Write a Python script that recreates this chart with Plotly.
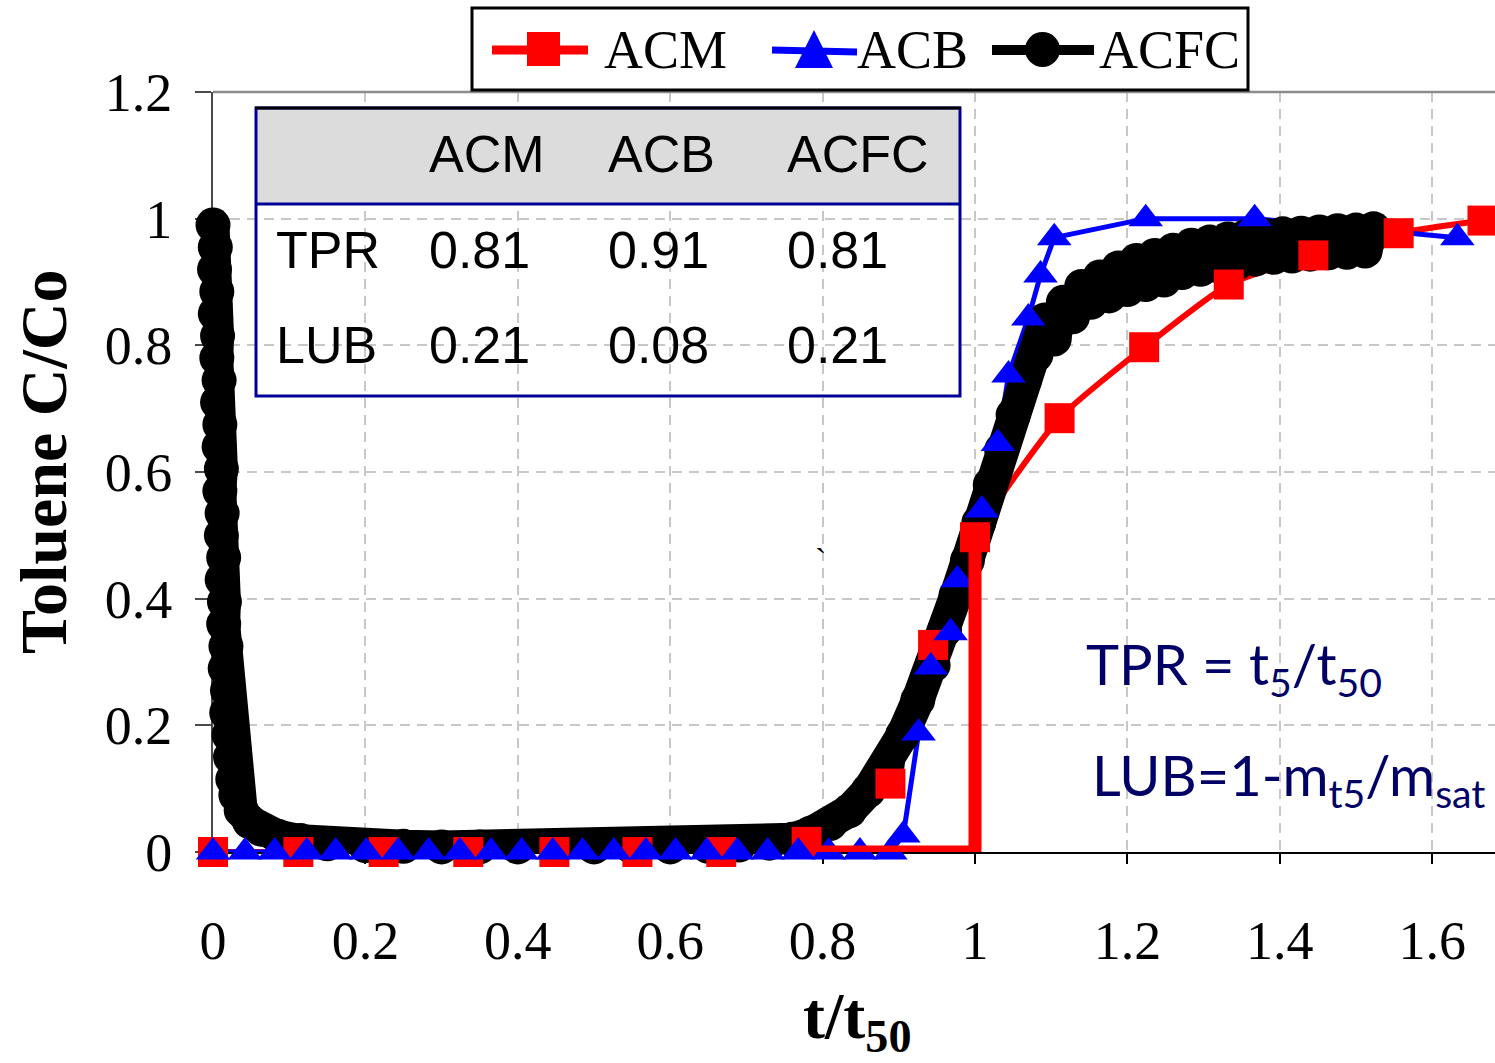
import plotly.graph_objects as go

# ---------------- data ----------------
acm_x = [0.0, 0.112, 0.224, 0.335, 0.448, 0.557, 0.667, 0.779, 0.889, 0.945, 1.0,
         1.111, 1.222, 1.333, 1.444, 1.556, 1.666]
acm_y = [0.0, 0.0, 0.0, 0.0, 0.0, 0.0, 0.0, 0.016, 0.108, 0.327, 0.497,
         0.685, 0.797, 0.896, 0.942, 0.977, 0.997]

acb_x = [0.0, 0.042, 0.081, 0.123, 0.161, 0.201, 0.243, 0.283, 0.324, 0.365, 0.405,
         0.446, 0.485, 0.526, 0.568, 0.607, 0.648, 0.688, 0.728, 0.768, 0.808, 0.849,
         0.889, 0.906, 0.926, 0.942, 0.968, 0.977, 1.009, 1.03, 1.044, 1.07, 1.086,
         1.104, 1.224, 1.367, 1.633]
acb_y = [0.0, 0.0, 0.0, 0.0, 0.0, 0.0, 0.0, 0.0, 0.0, 0.0, 0.0,
         0.0, 0.0, 0.0, 0.0, 0.0, 0.0, 0.0, 0.0, 0.0, 0.0, 0.0,
         0.0, 0.027, 0.188, 0.292, 0.346, 0.43, 0.54, 0.645, 0.753, 0.843, 0.911,
         0.97, 1.0, 1.0, 0.97]

acfc_x = [0.000, 0.003, 0.002, 0.005, 0.003, 0.006, 0.005, 0.008, 0.006, 0.009, 0.008,
          0.011, 0.009, 0.012, 0.011, 0.014, 0.012, 0.015, 0.014, 0.017, 0.016, 0.019,
          0.018, 0.021, 0.023, 0.026, 0.030, 0.037, 0.048, 0.063, 0.085, 0.115, 0.15,
          0.20, 0.25, 0.30, 0.35, 0.40, 0.45, 0.50, 0.55, 0.60, 0.65, 0.69, 0.73, 0.76,
          0.785, 0.81, 0.835, 0.86, 0.885, 0.905, 0.925, 0.945, 0.96, 0.975, 0.99,
          1.005, 1.02, 1.035, 1.05, 1.065,
          1.080, 1.092, 1.104, 1.116, 1.128, 1.140, 1.152, 1.164, 1.176, 1.188,
          1.200, 1.212, 1.224, 1.236, 1.248, 1.260, 1.272, 1.284, 1.296, 1.308,
          1.320, 1.332, 1.344, 1.356, 1.368, 1.380, 1.392, 1.404, 1.416, 1.428,
          1.440, 1.452, 1.464, 1.476, 1.488, 1.500, 1.512, 1.523]
acfc_y = [0.99, 0.955, 0.92, 0.885, 0.85, 0.815, 0.78, 0.745, 0.71, 0.675, 0.64,
          0.605, 0.57, 0.535, 0.50, 0.465, 0.43, 0.395, 0.36, 0.325, 0.29, 0.255,
          0.22, 0.185, 0.15, 0.115, 0.09, 0.066, 0.048, 0.036, 0.025, 0.018, 0.013,
          0.01, 0.009, 0.008, 0.008, 0.008, 0.008, 0.008, 0.008, 0.008, 0.009, 0.011, 0.014, 0.02,
          0.03, 0.045, 0.065, 0.097, 0.14, 0.185, 0.24, 0.295, 0.35, 0.405, 0.46,
          0.52, 0.58, 0.635, 0.69, 0.745,
          0.785, 0.84, 0.81, 0.868, 0.845, 0.893, 0.868, 0.908, 0.878, 0.922,
          0.888, 0.934, 0.896, 0.942, 0.903, 0.95, 0.915, 0.958, 0.92, 0.963,
          0.925, 0.968, 0.93, 0.972, 0.936, 0.974, 0.939, 0.976, 0.941, 0.977,
          0.944, 0.979, 0.946, 0.981, 0.947, 0.982, 0.949, 0.984]

# red marker line for t5 / t50
step_x = [0.785, 1.0, 1.0]
step_y = [0.0, 0.0, 0.5]

x_ticks = [0, 0.2, 0.4, 0.6, 0.8, 1.0, 1.2, 1.4, 1.6]
x_labels = ["0", "0.2", "0.4", "0.6", "0.8", "1", "1.2", "1.4", "1.6"]
y_ticks = [0, 0.2, 0.4, 0.6, 0.8, 1.0, 1.2]
y_labels = ["0", "0.2", "0.4", "0.6", "0.8", "1", "1.2"]

series_names = ["ACM", "ACB", "ACFC"]
table_rows = ["TPR", "LUB"]
tpr_vals = ["0.81", "0.91", "0.81"]
lub_vals = ["0.21", "0.08", "0.21"]

RED = "#FF0000"
BLUE = "#0000FF"
BLACK = "#000000"
NAVY = "#000099"
TXT_NAVY = "#000066"
SERIF = "Liberation Serif, Times New Roman, serif"
SANS = "Liberation Sans, Arial, sans-serif"

# ---------------- layout geometry (pixels) ----------------
L, T, WP, HP = 213, 92, 1282, 760
X_PER = 762.0


def px(xp):
    return (xp - L) / WP


def py(yp):
    return (T + HP - yp) / HP


fig = go.Figure()

# lines (under the ACFC band)
fig.add_trace(go.Scatter(x=acm_x, y=acm_y, mode="lines", line=dict(color=RED, width=6, shape="spline", smoothing=0.6),
                         hoverinfo="skip", showlegend=False))
fig.add_trace(go.Scatter(x=acb_x, y=acb_y, mode="lines", line=dict(color=BLUE, width=5),
                         hoverinfo="skip", showlegend=False))
# ACFC
fig.add_trace(go.Scatter(x=acfc_x, y=acfc_y, mode="lines+markers", name="ACFC",
                         line=dict(color=BLACK, width=33),
                         marker=dict(symbol="circle", size=35, color=BLACK),
                         cliponaxis=False, showlegend=False))
# markers on top
fig.add_trace(go.Scatter(x=acm_x, y=acm_y, mode="markers", name="ACM",
                         marker=dict(symbol="square", size=30, color=RED),
                         cliponaxis=False, showlegend=False))
fig.add_trace(go.Scatter(x=acb_x, y=acb_y, mode="markers", name="ACB",
                         marker=dict(symbol="triangle-up", size=30, color=BLUE),
                         cliponaxis=False, showlegend=False))
fig.add_trace(go.Scatter(x=step_x, y=step_y, mode="lines", line=dict(color=RED, width=13),
                         cliponaxis=False, hoverinfo="skip", showlegend=False))

shapes = []
annotations = []

# solid top border of plot area
shapes.append(dict(type="line", xref="paper", yref="paper", x0=0, x1=1, y0=1, y1=1,
                   line=dict(color="#8c8c8c", width=2.5)))

# ---------- custom legend ----------
shapes.append(dict(type="rect", xref="paper", yref="paper", x0=px(472), x1=px(1248), y0=py(90), y1=py(8),
                   line=dict(color=BLACK, width=3), fillcolor="white"))
leg_y = 50
# ACM
shapes.append(dict(type="line", xref="paper", yref="paper", x0=px(492), x1=px(588), y0=py(leg_y), y1=py(leg_y),
                   line=dict(color=RED, width=9)))
shapes.append(dict(type="rect", xref="paper", yref="paper", x0=px(527), x1=px(560), y0=py(66), y1=py(32),
                   line=dict(width=0), fillcolor=RED))
# ACB
shapes.append(dict(type="line", xref="paper", yref="paper", x0=px(772), x1=px(857), y0=py(leg_y), y1=py(leg_y + 2),
                   line=dict(color=BLUE, width=7)))
shapes.append(dict(type="path", xref="paper", yref="paper",
                   path="M %f,%f L %f,%f L %f,%f Z" % (px(795), py(68), px(833), py(68), px(814), py(30)),
                   line=dict(width=0), fillcolor=BLUE))
# ACFC
shapes.append(dict(type="line", xref="paper", yref="paper", x0=px(992), x1=px(1094), y0=py(leg_y), y1=py(leg_y),
                   line=dict(color=BLACK, width=10)))
shapes.append(dict(type="circle", xref="paper", yref="paper", x0=px(1025), x1=px(1060), y0=py(67), y1=py(32),
                   line=dict(width=0), fillcolor=BLACK))
for name, xl in zip(series_names, [602, 855, 1097]):
    annotations.append(dict(xref="paper", yref="paper", x=px(xl), y=py(leg_y), text=name, showarrow=False,
                            xanchor="left", yanchor="middle", font=dict(family=SERIF, size=54, color=BLACK)))

# ---------- inset table ----------
tx0, tx1, ty0, ty1, thead = 256, 960, 108, 396, 204
shapes.append(dict(type="rect", xref="paper", yref="paper", x0=px(tx0), x1=px(tx1), y0=py(thead), y1=py(ty0),
                   line=dict(width=0), fillcolor="#DCDCDC"))
shapes.append(dict(type="rect", xref="paper", yref="paper", x0=px(tx0), x1=px(tx1), y0=py(ty1), y1=py(ty0),
                   line=dict(color=NAVY, width=3), fillcolor="rgba(0,0,0,0)"))
shapes.append(dict(type="line", xref="paper", yref="paper", x0=px(tx0), x1=px(tx1), y0=py(thead), y1=py(thead),
                   line=dict(color=NAVY, width=3)))
shapes.append(dict(type="line", xref="paper", yref="paper", x0=px(tx0 - 1), x1=px(tx1 + 1), y0=py(ty0), y1=py(ty0),
                   line=dict(color=BLACK, width=3)))

col_x = [430, 609, 788]
row_y = [250, 345]
tfont = dict(family=SANS, size=52, color=BLACK)
for name, cx in zip(series_names, col_x):
    annotations.append(dict(xref="paper", yref="paper", x=px(cx - 3), y=py(154), text=name, showarrow=False,
                            xanchor="left", yanchor="middle", font=tfont))
for rname, ry, vals in zip(table_rows, row_y, [tpr_vals, lub_vals]):
    annotations.append(dict(xref="paper", yref="paper", x=px(274), y=py(ry), text=rname, showarrow=False,
                            xanchor="left", yanchor="middle", font=tfont))
    for v, cx in zip(vals, col_x):
        annotations.append(dict(xref="paper", yref="paper", x=px(cx - 3), y=py(ry), text=v, showarrow=False,
                                xanchor="left", yanchor="middle", font=tfont))

# ---------- formulas ----------
ffont = dict(family="Lato, Open Sans, sans-serif", size=56, color=TXT_NAVY)
annotations.append(dict(xref="paper", yref="paper", x=px(1084), y=py(667), text="TPR = t<sub>5</sub>/t<sub>50</sub>",
                        showarrow=False, xanchor="left", yanchor="middle", font=ffont))
annotations.append(dict(xref="paper", yref="paper", x=px(1090), y=py(778),
                        text="LUB=1-m<sub>t5</sub>/m<sub>sat</sub>",
                        showarrow=False, xanchor="left", yanchor="middle", font=ffont))
# stray mark
annotations.append(dict(xref="paper", yref="paper", x=px(820), y=py(560), text="`", showarrow=False,
                        xanchor="center", yanchor="middle", font=dict(family=SERIF, size=34, color=BLACK)))

# ---------- axis titles ----------
annotations.append(dict(xref="paper", yref="paper", x=px(44), y=py(462), text="<b>Toluene C/Co</b>",
                        textangle=-90, showarrow=False, xanchor="center", yanchor="middle",
                        font=dict(family=SERIF, size=66, color=BLACK)))
annotations.append(dict(xref="paper", yref="paper", x=px(857), y=py(1020), text="<b>t/t<sub>50</sub></b>",
                        showarrow=False, xanchor="center", yanchor="middle",
                        font=dict(family=SERIF, size=66, color=BLACK)))

fig.update_layout(
    width=1495, height=1063,
    margin=dict(l=L, r=0, t=T, b=1063 - T - HP, pad=0),
    plot_bgcolor="white", paper_bgcolor="white",
    showlegend=False,
    shapes=shapes, annotations=annotations,
    xaxis=dict(range=[0, WP / X_PER], tickvals=x_ticks, ticktext=x_labels,
               showgrid=True, gridcolor="#c8c8c8", gridwidth=1.5, griddash="10px,7px",
               zeroline=False, showline=True, linecolor=BLACK, linewidth=2,
               ticks="outside", ticklen=10, tickwidth=2, tickcolor=BLACK,
               ticklabelstandoff=30, layer="below traces",
               tickfont=dict(family=SERIF, size=54, color=BLACK)),
    yaxis=dict(range=[0, 1.2], tickvals=y_ticks, ticktext=y_labels,
               showgrid=True, gridcolor="#c8c8c8", gridwidth=1.5, griddash="10px,7px",
               zeroline=False, showline=True, linecolor="#4a4a4a", linewidth=2,
               ticks="outside", ticklen=16, tickwidth=2, tickcolor="#4a4a4a",
               ticklabelstandoff=12, layer="below traces",
               tickfont=dict(family=SERIF, size=54, color=BLACK)),
)

fig.write_html("out.html")
